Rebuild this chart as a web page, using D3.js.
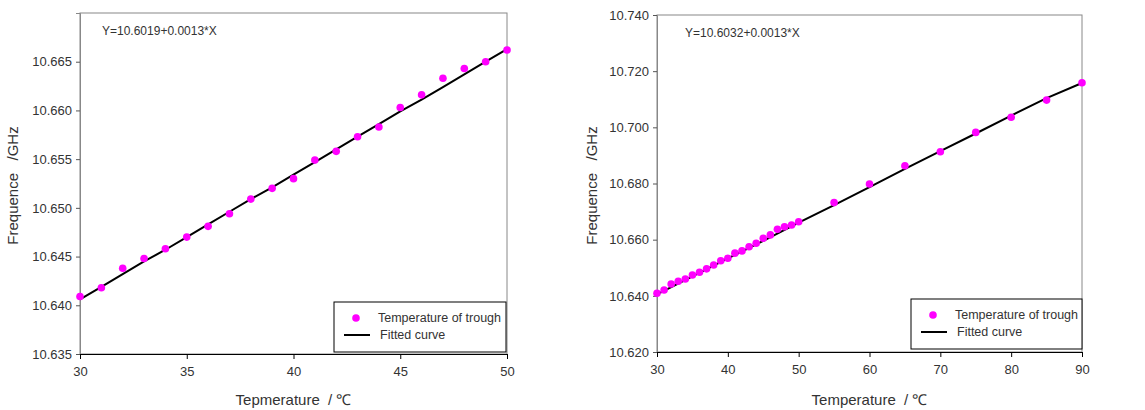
<!DOCTYPE html>
<html>
<head>
<meta charset="utf-8">
<script src="https://cdn.jsdelivr.net/npm/d3@7"></script>
<style>
  body { margin: 0; background: #fff; }
  svg text { font-family: "Liberation Sans", Arial, sans-serif; fill: #333; }
</style>
</head>
<body>
<svg id="chart" width="1145" height="410"></svg>
<script>
// left panel: 30..50 step 1
const leftTemps = [30, 31, 32, 33, 34, 35, 36, 37, 38, 39, 40, 41, 42, 43, 44, 45, 46, 47, 48, 49, 50];
const leftFreq = [10.6409, 10.6418, 10.6438, 10.6448, 10.6458, 10.6470, 10.6481, 10.6494, 10.6509, 10.6520,
  10.6530, 10.6549, 10.6558, 10.6573, 10.6583, 10.6603, 10.6616, 10.6633, 10.6643, 10.6650, 10.6662];
const leftFitX = [30, 31, 32, 33, 34, 35, 36, 37, 38, 39, 40, 41, 42, 43, 44, 45, 46, 47, 48, 49, 50];
const leftFitY = [10.6406, 10.6419, 10.6432, 10.6445, 10.6457, 10.6470, 10.6483, 10.6496, 10.6509, 10.6521,
  10.6534, 10.6547, 10.6560, 10.6573, 10.6586, 10.6599, 10.6611, 10.6624, 10.6637, 10.6650, 10.6663];
const leftXTicks = [30, 35, 40, 45, 50];
const leftYTicks = [10.635, 10.640, 10.645, 10.650, 10.655, 10.660, 10.665];

// right panel: 30..50 step 1, then 55..90 step 5
const rightTemps = [30, 31, 32, 33, 34, 35, 36, 37, 38, 39, 40, 41, 42, 43, 44, 45, 46, 47, 48, 49, 50,
  55, 60, 65, 70, 75, 80, 85, 90];
const rightFreq = [10.6409, 10.6421, 10.6442, 10.6452, 10.6460, 10.6474, 10.6484, 10.6496, 10.6510, 10.6525,
  10.6534, 10.6552, 10.6560, 10.6575, 10.6587, 10.6605, 10.6617, 10.6637, 10.6646, 10.6652, 10.6664,
  10.6732, 10.6798, 10.6863, 10.6913, 10.6982, 10.7036, 10.7097, 10.7159];
const rightFitX = [30, 35, 40, 45, 50, 55, 60, 65, 70, 75, 80, 85, 90];
const rightFitY = [10.6405, 10.6469, 10.6533, 10.6596, 10.6661, 10.6723, 10.6787, 10.6852, 10.6915, 10.6978,
  10.7042, 10.7104, 10.7158];
const rightXTicks = [30, 40, 50, 60, 70, 80, 90];
const rightYTicks = [10.620, 10.640, 10.660, 10.680, 10.700, 10.720, 10.740];

const svg = d3.select("#chart");

function drawPanel(p) {
  const x = d3.scaleLinear().domain(p.xDomain).range([p.left, p.right]);
  const y = d3.scaleLinear().domain(p.yDomain).range([p.bottom, p.top]);

  // frame
  svg.append("rect")
    .attr("x", p.left).attr("y", p.top)
    .attr("width", p.right - p.left).attr("height", p.bottom - p.top)
    .attr("fill", "none").attr("stroke", "#888").attr("stroke-width", 1);

  // y axis
  const yAxis = svg.append("g")
    .attr("transform", `translate(${p.left},0)`)
    .call(d3.axisLeft(y).tickValues(p.yTicks).tickFormat(d3.format(".3f")).tickSize(4).tickPadding(4));
  yAxis.select(".domain").attr("stroke", "#888");
  yAxis.selectAll(".tick line").attr("stroke", "#555");
  yAxis.selectAll("text").attr("font-size", 13).attr("fill", "#333")
    .style("font-family", "'Liberation Sans', Arial, sans-serif");

  // x axis
  const xAxis = svg.append("g")
    .attr("transform", `translate(0,${p.bottom})`)
    .call(d3.axisBottom(x).tickValues(p.xTicks).tickSize(5).tickPadding(8));
  xAxis.select(".domain").attr("stroke", "#000");
  xAxis.selectAll(".tick line").attr("stroke", "#000");
  xAxis.selectAll("text").attr("font-size", 13).attr("fill", "#333")
    .style("font-family", "'Liberation Sans', Arial, sans-serif");

  // fitted line
  const line = d3.line().x((d) => x(d[0])).y((d) => y(d[1]));
  svg.append("path")
    .attr("d", line(d3.zip(p.fitX, p.fitY)))
    .attr("fill", "none").attr("stroke", "#000").attr("stroke-width", 2);

  // data points
  svg.append("g").selectAll("circle")
    .data(d3.zip(p.temps, p.freq))
    .join("circle")
    .attr("cx", (d) => x(d[0]))
    .attr("cy", (d) => y(d[1]))
    .attr("r", 3.8)
    .attr("fill", "#ff00ff");

  // equation
  svg.append("text")
    .attr("x", p.left + p.eqDx).attr("y", p.top + 22)
    .attr("font-size", 12)
    .text(p.equation);

  // axis titles
  svg.append("text")
    .attr("x", (p.left + p.right) / 2).attr("y", 405)
    .attr("text-anchor", "middle").attr("font-size", 15)
    .attr("xml:space", "preserve")
    .text(p.xTitle);
  svg.append("text")
    .attr("transform", `translate(${p.yTitleX},${(p.top + p.bottom) / 2 + 2}) rotate(-90)`)
    .attr("text-anchor", "middle").attr("font-size", 15)
    .attr("xml:space", "preserve")
    .text("Frequence   /GHz");

  // legend
  const lg = p.legend;
  svg.append("rect")
    .attr("x", lg.x).attr("y", lg.y).attr("width", lg.w).attr("height", lg.h)
    .attr("fill", "#fff").attr("stroke", "#000").attr("stroke-width", 1);
  svg.append("circle")
    .attr("cx", lg.x + 22).attr("cy", lg.y + 16).attr("r", 3.8).attr("fill", "#ff00ff");
  svg.append("text")
    .attr("x", lg.x + 44).attr("y", lg.y + 20).attr("font-size", 12.5)
    .text("Temperature of trough");
  svg.append("line")
    .attr("x1", lg.x + 10).attr("x2", lg.x + 36)
    .attr("y1", lg.y + 33).attr("y2", lg.y + 33)
    .attr("stroke", "#000").attr("stroke-width", 2);
  svg.append("text")
    .attr("x", lg.x + 46).attr("y", lg.y + 37).attr("font-size", 12.5)
    .text("Fitted curve");
}

drawPanel({
  left: 80, right: 507, top: 13, bottom: 354,
  xDomain: [30, 50], yDomain: [10.635, 10.670],
  xTicks: leftXTicks, yTicks: leftYTicks,
  temps: leftTemps, freq: leftFreq, fitX: leftFitX, fitY: leftFitY,
  equation: "Y=10.6019+0.0013*X", eqDx: 22,
  xTitle: "Tepmerature  / \u2103", yTitleX: 18,
  legend: { x: 334, y: 302, w: 172, h: 50 }
});

drawPanel({
  left: 657, right: 1082, top: 15, bottom: 352,
  xDomain: [30, 90], yDomain: [10.620, 10.740],
  xTicks: rightXTicks, yTicks: rightYTicks,
  temps: rightTemps, freq: rightFreq, fitX: rightFitX, fitY: rightFitY,
  equation: "Y=10.6032+0.0013*X", eqDx: 28,
  xTitle: "Temperature  / \u2103", yTitleX: 597,
  legend: { x: 911, y: 299, w: 171, h: 50 }
});
</script>
</body>
</html>
